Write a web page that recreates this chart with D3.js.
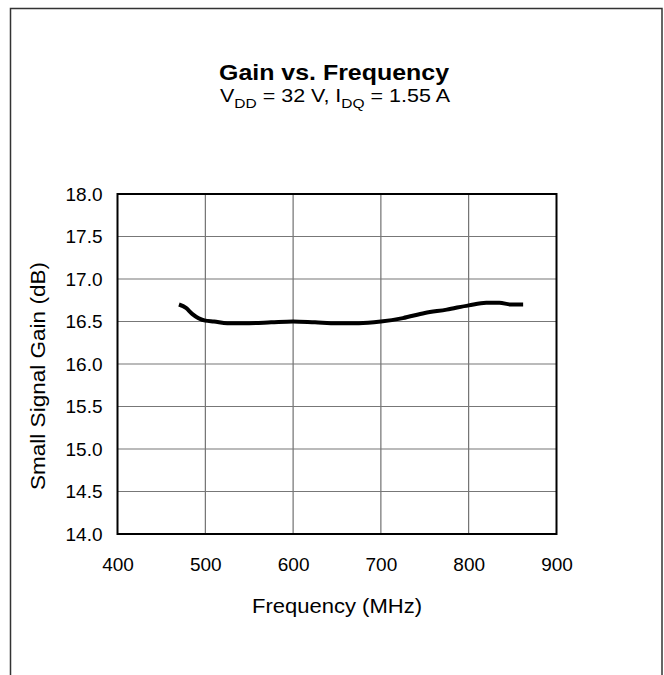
<!DOCTYPE html>
<html>
<head>
<meta charset="utf-8">
<script src="https://cdn.jsdelivr.net/npm/d3@7"></script>
<style>
  html, body { margin: 0; padding: 0; background: #fff; }
  text { font-family: "Liberation Sans", Arial, Helvetica, sans-serif; fill: #000; }
</style>
</head>
<body>
<svg id="chart" width="664" height="675"></svg>
<script>
// ---- data ----
const frequency = [470, 478, 485, 500, 510, 525, 550, 575, 600, 625, 650, 675, 700, 725, 750, 775, 800, 820, 835, 848, 862];
const gain      = [16.70, 16.66, 16.59, 16.51, 16.50, 16.48, 16.48, 16.49, 16.50, 16.49, 16.48, 16.48, 16.50, 16.54, 16.60, 16.64, 16.69, 16.72, 16.72, 16.70, 16.70];
const xTicks = [400, 500, 600, 700, 800, 900];
const yTicks = [14.0, 14.5, 15.0, 15.5, 16.0, 16.5, 17.0, 17.5, 18.0];
const titleText = "Gain vs. Frequency";
const xLabel = "Frequency (MHz)";
const yLabel = "Small Signal Gain (dB)";

const svg = d3.select("#chart");
const m = { left: 117.5, right: 556.5, top: 194, bottom: 534 };

// outer frame
svg.append("rect")
  .attr("x", 10.5).attr("y", 8.5)
  .attr("width", 651.5).attr("height", 700)
  .attr("fill", "none").attr("stroke", "#333").attr("stroke-width", 1.5);

const x = d3.scaleLinear().domain([400, 900]).range([m.left, m.right]);
const y = d3.scaleLinear().domain([14, 18]).range([m.bottom, m.top]);

// grid
svg.append("g").selectAll("line").data(xTicks.slice(1, -1)).join("line")
  .attr("x1", d => x(d)).attr("x2", d => x(d))
  .attr("y1", m.top).attr("y2", m.bottom)
  .attr("stroke", "#555").attr("stroke-width", 1);
svg.append("g").selectAll("line").data(yTicks.slice(1, -1)).join("line")
  .attr("y1", d => y(d)).attr("y2", d => y(d))
  .attr("x1", m.left).attr("x2", m.right)
  .attr("stroke", "#777").attr("stroke-width", 1.2);

// axes (labels only, using d3 axis)
const xAxis = svg.append("g").attr("transform", `translate(0,${m.bottom})`)
  .call(d3.axisBottom(x).tickValues(xTicks).tickSize(0).tickPadding(24).tickFormat(d3.format("d")));
xAxis.select(".domain").remove();
xAxis.selectAll("text").attr("font-size", 19).attr("font-family", "Liberation Sans, Arial, sans-serif").attr("fill", "#000");

const yAxis = svg.append("g").attr("transform", `translate(${m.left},0)`)
  .call(d3.axisLeft(y).tickValues(yTicks).tickSize(0).tickPadding(15).tickFormat(d3.format(".1f")));
yAxis.select(".domain").remove();
yAxis.selectAll("text").attr("font-size", 19).attr("font-family", "Liberation Sans, Arial, sans-serif").attr("fill", "#000");

// plot border
svg.append("rect")
  .attr("x", m.left).attr("y", m.top)
  .attr("width", m.right - m.left).attr("height", m.bottom - m.top)
  .attr("fill", "none").attr("stroke", "#000").attr("stroke-width", 2);

// curve
const line = d3.line().x((d, i) => x(frequency[i])).y((d, i) => y(gain[i])).curve(d3.curveMonotoneX);
svg.append("path").datum(gain)
  .attr("d", line)
  .attr("fill", "none").attr("stroke", "#000").attr("stroke-width", 4)
  .attr("stroke-linejoin", "round").attr("stroke-linecap", "butt");

// title
svg.append("text").attr("x", 334).attr("y", 80).attr("text-anchor", "middle")
  .attr("font-size", 22).attr("font-weight", "bold")
  .attr("textLength", 230).attr("lengthAdjust", "spacingAndGlyphs").text(titleText);

// subtitle with subscripts
const sub = svg.append("text").attr("x", 335).attr("y", 102).attr("text-anchor", "middle").attr("font-size", 18)
  .attr("textLength", 230).attr("lengthAdjust", "spacingAndGlyphs");
sub.append("tspan").text("V");
sub.append("tspan").attr("font-size", 13).attr("dy", 6).text("DD");
sub.append("tspan").attr("dy", -6).text(" = 32 V, I");
sub.append("tspan").attr("font-size", 13).attr("dy", 6).text("DQ");
sub.append("tspan").attr("dy", -6).text(" = 1.55 A");

// axis titles
svg.append("text").attr("x", 337).attr("y", 613).attr("text-anchor", "middle")
  .attr("font-size", 21).attr("textLength", 170).attr("lengthAdjust", "spacingAndGlyphs").text(xLabel);
svg.append("text").attr("transform", `translate(45,376) rotate(-90)`)
  .attr("text-anchor", "middle").attr("font-size", 21)
  .attr("textLength", 228).attr("lengthAdjust", "spacingAndGlyphs").text(yLabel);
</script>
</body>
</html>
